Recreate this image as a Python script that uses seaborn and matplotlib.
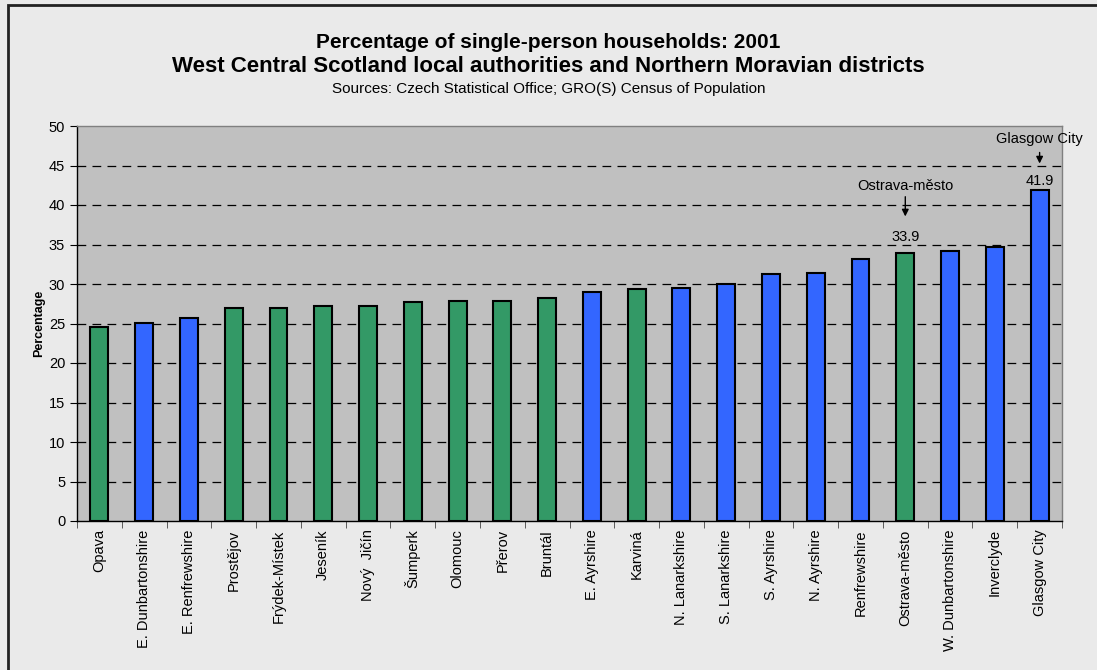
import matplotlib
matplotlib.use("Agg")
import matplotlib.pyplot as plt
import seaborn as sns
import pandas as pd
from matplotlib.patches import Rectangle

# data
areas = ["Opava", "E. Dunbartonshire", "E. Renfrewshire", "Prostějov", "Frýdek-Místek",
         "Jeseník", "Nový  Jičín", "Šumperk", "Olomouc", "Přerov", "Bruntál",
         "E. Ayrshire", "Karviná", "N. Lanarkshire", "S. Lanarkshire", "S. Ayrshire",
         "N. Ayrshire", "Renfrewshire", "Ostrava-město", "W. Dunbartonshire",
         "Inverclyde", "Glasgow City"]
values = [24.6, 25.1, 25.7, 26.9, 26.9, 27.2, 27.2, 27.7, 27.8, 27.9, 28.2,
          29.0, 29.4, 29.5, 30.0, 31.3, 31.4, 33.2, 33.9, 34.2, 34.7, 41.9]
country = ["CZ", "SC", "SC", "CZ", "CZ", "CZ", "CZ", "CZ", "CZ", "CZ", "CZ",
           "SC", "CZ", "SC", "SC", "SC", "SC", "SC", "CZ", "SC", "SC", "SC"]
colours = {"CZ": "#339966", "SC": "#3366FF"}
callouts = ["Ostrava-město", "Glasgow City"]

df = pd.DataFrame({"area": areas, "value": values, "country": country})

plt.rcParams["font.family"] = ["Liberation Sans", "DejaVu Sans"]

fig = plt.figure(figsize=(10.97, 6.70), dpi=100, facecolor="#EAEAEA")
# outer frame (right and bottom edges sit outside the picture)
fig.patches.append(Rectangle((8 / 1097, -0.1), 1.2, 1 - 5 / 670 + 0.1, transform=fig.transFigure,
                             fill=False, edgecolor="#222222", linewidth=2))

ax = fig.add_axes([77 / 1097, 149 / 670, 985 / 1097, 395 / 670])
ax.set_facecolor("#C0C0C0")

sns.barplot(data=df, x="area", y="value", hue="country", palette=colours, dodge=False,
            saturation=1, width=0.4, edgecolor="black", linewidth=1.5, legend=False,
            ax=ax, zorder=3)

ax.set_ylim(0, 50)
ax.set_xlim(-0.5, len(areas) - 0.5)
ax.set_yticks(range(0, 51, 5))
for y in range(5, 50, 5):
    ax.axhline(y, color="black", linewidth=0.9, linestyle=(0, (7, 5)), zorder=1)

ax.set_xlabel("")
ax.set_ylabel("Percentage", fontsize=9, fontweight="bold", labelpad=3)
ax.set_xticks(range(len(areas)))
ax.set_xticklabels(areas, rotation=90, fontsize=10.5)
ax.tick_params(axis="x", length=0, pad=6)
ax.set_xticks([i + 0.5 for i in range(-1, len(areas))], minor=True)
ax.tick_params(axis="x", which="minor", length=5, color="#444444")
ax.tick_params(axis="y", labelsize=10.5, length=5, direction="out")

for side in ["left", "bottom"]:
    ax.spines[side].set_color("black")
    ax.spines[side].set_linewidth(1)
for side in ["top", "right"]:
    ax.spines[side].set_color("#808080")
    ax.spines[side].set_linewidth(1)

# callouts: (value label offset, arrow tip, arrow tail, name offset)
offsets = {"Ostrava-město": (2.0, 4.3, 7.5, 8.5), "Glasgow City": (1.2, 3.0, 5.1, 6.5)}
for name in callouts:
    i = areas.index(name)
    v = values[i]
    o_val, o_tip, o_tail, o_name = offsets[name]
    ax.text(i, v + o_val, f"{v:.1f}", ha="center", va="center", fontsize=10.5)
    ax.annotate("", xy=(i, v + o_tip), xytext=(i, v + o_tail),
                arrowprops=dict(arrowstyle="-|>", color="black", lw=1, mutation_scale=10))
    ax.text(i, v + o_name, name, ha="center", va="center", fontsize=10.5)

fig.text(0.5, 1 - 42 / 670, "Percentage of single-person households: 2001",
         ha="center", va="center", fontsize=15, fontweight="bold")
fig.text(0.5, 1 - 66 / 670, "West Central Scotland local authorities and Northern Moravian districts",
         ha="center", va="center", fontsize=16, fontweight="bold")
fig.text(0.5, 1 - 89 / 670, "Sources: Czech Statistical Office; GRO(S) Census of Population",
         ha="center", va="center", fontsize=11)

fig.savefig("out.png", dpi=100, facecolor=fig.get_facecolor())
